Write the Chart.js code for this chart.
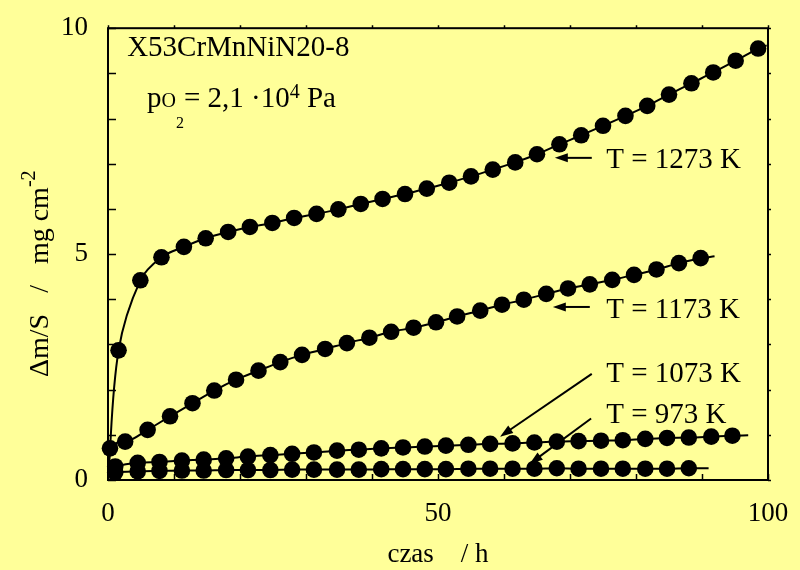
<!DOCTYPE html>
<html>
<head>
<meta charset="utf-8">
<script src="https://cdn.jsdelivr.net/npm/chart.js@4.4.1/dist/chart.umd.min.js"></script>
<style>
  body { margin: 0; background: #FFFF99; }
  canvas { display: block; }
</style>
</head>
<body>
<canvas id="chart" width="800" height="570"></canvas>
<script>
// czas / h  and  Δm/S / mg cm-2
const t1273 = [1.6, 4.9, 8.1, 11.5, 14.8, 18.2, 21.5, 24.9, 28.2, 31.6, 34.9, 38.3, 41.6, 45.0, 48.3,
  51.7, 55.0, 58.3, 61.7, 65.0, 68.4, 71.7, 75.0, 78.4, 81.7, 85.0, 88.4, 91.7, 95.1, 98.5];
const m1273 = [2.87, 4.42, 4.93, 5.16, 5.35, 5.49, 5.60, 5.69, 5.80, 5.89, 5.99, 6.11, 6.22, 6.33, 6.45,
  6.58, 6.72, 6.87, 7.03, 7.21, 7.43, 7.63, 7.84, 8.06, 8.28, 8.53, 8.78, 9.02, 9.28, 9.55];

const t1173 = [0.3, 2.6, 6.0, 9.4, 12.8, 16.1, 19.4, 22.8, 26.1, 29.4, 32.9, 36.2, 39.6, 42.9,
  46.3, 49.7, 52.9, 56.4, 59.7, 63.0, 66.4, 69.7, 73.0, 76.4, 79.7, 83.1, 86.5, 89.8];
const m1173 = [0.70, 0.85, 1.11, 1.41, 1.70, 1.98, 2.22, 2.42, 2.61, 2.77, 2.90, 3.03, 3.15, 3.28,
  3.37, 3.49, 3.62, 3.75, 3.88, 3.99, 4.12, 4.24, 4.33, 4.43, 4.54, 4.66, 4.80, 4.91];

const t1073 = [1.1, 4.5, 7.8, 11.2, 14.5, 17.9, 21.2, 24.6, 27.9, 31.2, 34.7, 38.0, 41.4, 44.7, 48.0,
  51.2, 54.6, 57.9, 61.3, 64.6, 68.0, 71.3, 74.7, 78.0, 81.4, 84.7, 88.0, 91.4, 94.6];
const m1073 = [0.30, 0.38, 0.40, 0.43, 0.45, 0.48, 0.52, 0.55, 0.58, 0.61, 0.65, 0.67, 0.70, 0.72, 0.74,
  0.76, 0.78, 0.80, 0.81, 0.83, 0.85, 0.86, 0.87, 0.88, 0.91, 0.93, 0.94, 0.96, 0.98];

const t973 = [1.1, 4.5, 7.8, 11.2, 14.5, 17.9, 21.2, 24.6, 27.9, 31.2, 34.7, 38.0, 41.4, 44.7, 48.0,
  51.2, 54.6, 57.9, 61.3, 64.6, 68.0, 71.3, 74.7, 78.0, 81.4, 84.7, 88.0];
const m973 = [0.17, 0.19, 0.20, 0.21, 0.21, 0.22, 0.22, 0.22, 0.23, 0.23, 0.23, 0.23, 0.24, 0.24, 0.24,
  0.24, 0.25, 0.25, 0.25, 0.25, 0.26, 0.25, 0.25, 0.25, 0.25, 0.25, 0.26];

// where each fitted curve begins and ends: [x0, y0, x1, y1]
const ends1273 = [0, 0, 99.8, 9.62];
const ends1173 = [0, 0, 91.9, 4.95];
const ends1073 = [0, 0.25, 97.0, 0.99];
const ends973 = [0, 0.15, 91.0, 0.26];

const xTickLabels = [0, 50, 100];
const yTickLabels = [0, 5, 10];

const serif = "'Liberation Serif', 'Times New Roman', serif";

function pts(t, m) {
  return t.map((v, i) => ({ x: v, y: m[i] }));
}
function curve(t, m, e) {
  return [{ x: e[0], y: e[1] }].concat(pts(t, m), [{ x: e[2], y: e[3] }]);
}

function lineSet(data, smooth) {
  return {
    type: "line", data: data, borderColor: "#000", borderWidth: 2, pointRadius: 0,
    cubicInterpolationMode: smooth ? "default" : "monotone", tension: smooth ? 0.35 : 0,
    fill: false, order: 2,
  };
}
function dotSet(data) {
  return {
    data: data, showLine: false, pointRadius: 8.3, pointHoverRadius: 8.3,
    backgroundColor: "#000", borderWidth: 0, order: 1,
  };
}

// text with sub/superscripts: runs of [text, size, baseline shift]
function runs(ctx, x, yBase, parts) {
  let cx = x;
  parts.forEach(([s, size, dy]) => {
    ctx.font = size + "px " + serif;
    ctx.fillText(s, cx, yBase + dy);
    cx += ctx.measureText(s).width;
  });
}

function arrow(ctx, x0, y0, x1, y1) {
  let ang = Math.atan2(y1 - y0, x1 - x0);
  let len = 13, w = 4.5;
  ctx.beginPath();
  ctx.moveTo(x0, y0);
  ctx.lineTo(x1 - Math.cos(ang) * len * 0.8, y1 - Math.sin(ang) * len * 0.8);
  ctx.lineWidth = 2;
  ctx.stroke();
  ctx.beginPath();
  ctx.moveTo(x1, y1);
  ctx.lineTo(x1 - Math.cos(ang) * len - Math.sin(ang) * w, y1 - Math.sin(ang) * len + Math.cos(ang) * w);
  ctx.lineTo(x1 - Math.cos(ang) * len + Math.sin(ang) * w, y1 - Math.sin(ang) * len - Math.cos(ang) * w);
  ctx.closePath();
  ctx.fill();
}

const paper = {
  id: "paper",
  beforeDraw(chart) {
    let ctx = chart.ctx;
    ctx.save();
    ctx.fillStyle = "#FFFF99";
    ctx.fillRect(0, 0, chart.width, chart.height);
    ctx.restore();
  },
  afterDraw(chart) {
    const { ctx, chartArea: a, scales: { x, y } } = chart;
    ctx.save();
    ctx.strokeStyle = "#000";
    ctx.fillStyle = "#000";

    // frame + ticks
    ctx.lineWidth = 2;
    ctx.strokeRect(a.left, a.top, a.right - a.left, a.bottom - a.top);
    ctx.lineWidth = 1.5;
    ctx.beginPath();
    for (let v = 0; v <= 100; v += 10) {
      let px = Math.round(x.getPixelForValue(v)) + 0.5;
      ctx.moveTo(px, a.bottom); ctx.lineTo(px, a.bottom - 6);
      ctx.moveTo(px, a.top); ctx.lineTo(px, a.top - 3);
    }
    for (let v = 0; v <= 10; v += 1) {
      let py = Math.round(y.getPixelForValue(v)) + 0.5;
      ctx.moveTo(a.left, py); ctx.lineTo(a.left + 8, py);
      ctx.moveTo(a.right, py); ctx.lineTo(a.right + 3, py);
    }
    ctx.stroke();

    // axis titles
    ctx.textAlign = "center";
    ctx.textBaseline = "alphabetic";
    ctx.font = "27px " + serif;
    ctx.fillText("czas    / h", (a.left + a.right) / 2, 562);

    ctx.save();
    ctx.translate(48, 377);
    ctx.rotate(-Math.PI / 2);
    ctx.textAlign = "left";
    runs(ctx, 0, 0, [["\u0394m/S   /   mg cm", 28, 0], ["-2", 20, -13]]);
    ctx.restore();

    // inset text
    ctx.textAlign = "left";
    ctx.font = "29px " + serif;
    ctx.fillText("X53CrMnNiN20-8", x.getPixelForValue(2.9), y.getPixelForValue(9.38));
    let px0 = x.getPixelForValue(5.9), pb = y.getPixelForValue(8.26);
    runs(ctx, px0, pb, [["p", 29, 0], ["O", 20, 0], ["2", 16, 21], ["= 2,1 \u00B710", 29, 0], ["4", 20, -9], [" Pa", 29, 0]]);

    // temperature labels with arrows
    const labels = [
      ["T = 1273 K", 6.91, [73.3, 7.13, 67.7, 7.13]],
      ["T = 1173 K", 3.59, [73.0, 3.83, 67.4, 3.83]],
      ["T = 1073 K", 2.17, [73.3, 2.35, 59.4, 0.96]],
      ["T = 973 K", 1.26, [73.2, 1.36, 63.9, 0.36]],
    ];
    labels.forEach(([txt, yb, ar]) => {
      ctx.font = "29px " + serif;
      ctx.fillText(txt, x.getPixelForValue(75.5), y.getPixelForValue(yb));
      arrow(ctx, x.getPixelForValue(ar[0]), y.getPixelForValue(ar[1]),
        x.getPixelForValue(ar[2]), y.getPixelForValue(ar[3]));
    });
    ctx.restore();
  },
};

new Chart(document.getElementById("chart").getContext("2d"), {
  type: "scatter",
  data: {
    datasets: [
      lineSet(curve(t1273, m1273, ends1273), true),
      lineSet(curve(t1173, m1173, ends1173), false),
      lineSet(curve(t1073, m1073, ends1073), false),
      lineSet(curve(t973, m973, ends973), false),
      dotSet(pts(t1273, m1273)),
      dotSet(pts(t1173, m1173)),
      dotSet(pts(t1073, m1073)),
      dotSet(pts(t973, m973)),
    ],
  },
  options: {
    responsive: false,
    animation: false,
    clip: false,
    layout: { padding: { left: 0, top: 20, right: 32, bottom: 0 } },
    plugins: { legend: { display: false }, tooltip: { enabled: false } },
    scales: {
      x: {
        type: "linear", min: 0, max: 100,
        grid: { display: false },
        border: { display: false },
        afterFit: (s) => { s.height = 90; },
        ticks: {
          stepSize: 10, maxRotation: 0, padding: 10, color: "#000",
          font: { family: serif, size: 27 },
          callback: (v) => (xTickLabels.includes(v) ? String(v) : ""),
        },
      },
      y: {
        type: "linear", min: 0, max: 10,
        grid: { display: false },
        border: { display: false },
        afterFit: (s) => { s.width = 108; },
        ticks: {
          stepSize: 1, padding: 12, color: "#000",
          font: { family: serif, size: 27 },
          callback: (v) => (yTickLabels.includes(v) ? String(v) : ""),
        },
      },
    },
  },
  plugins: [paper],
});
</script>
</body>
</html>
